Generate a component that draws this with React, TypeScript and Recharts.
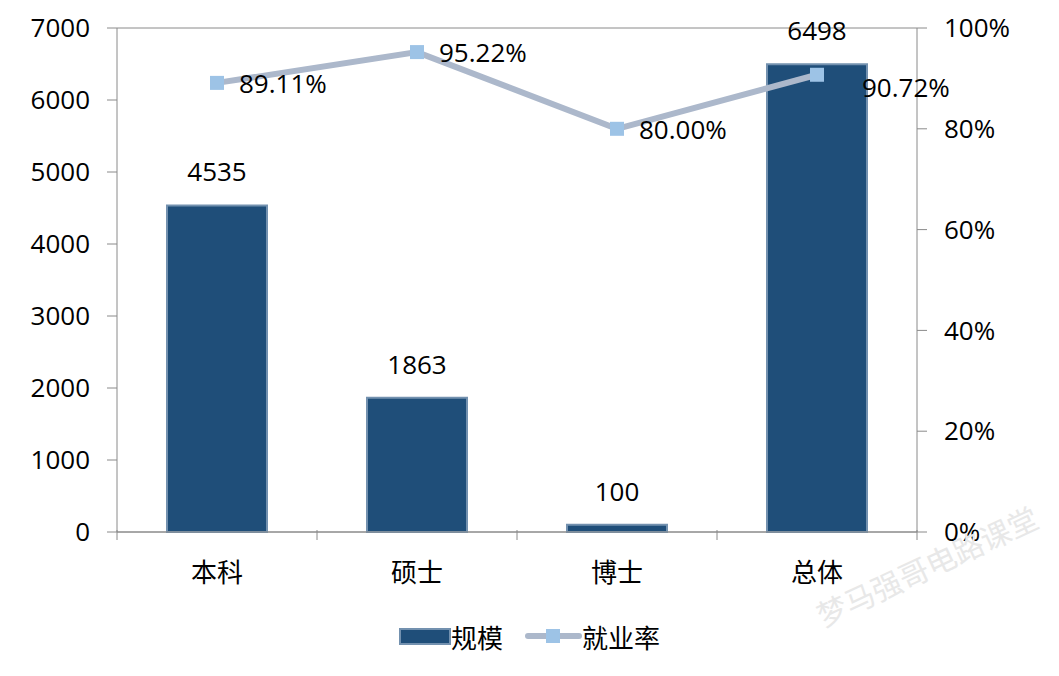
import React from "react";
import {
  ComposedChart,
  Bar,
  Line,
  XAxis,
  YAxis,
  CartesianGrid,
  LabelList,
  Legend,
} from "recharts";

const categories = ["本科", "硕士", "博士", "总体"];
const scaleValues = [4535, 1863, 100, 6498];
const rateValues = [89.11, 95.22, 80.0, 90.72];
const leftTicks = [0, 1000, 2000, 3000, 4000, 5000, 6000, 7000];
const rightTicks = [0, 20, 40, 60, 80, 100];
const seriesNames = ["规模", "就业率"];
const watermark = "梦马强哥电路课堂";

const data = categories.map((c, i) => ({
  name: c,
  scale: scaleValues[i],
  rate: rateValues[i],
}));

const FONT = '"Open Sans", "Noto Sans CJK SC", sans-serif';
const CJK = '"Noto Sans CJK SC", sans-serif';
const GRID = "#8a8a8a";
const BAR_FILL = "#1F4E79";
const BAR_STROKE = "#7391AF";
const LINE_COLOR = "#ACB8CB";
const MARKER = "#9DC3E6";

const XTick = (props: any) => {
  const { x, y, payload, width } = props;
  const bw = width / categories.length;
  const idx = payload.index;
  const isLast = idx === categories.length - 1;
  return (
    <g>
      <line x1={x - bw / 2} y1={y - 10} x2={x - bw / 2} y2={y} stroke={GRID} strokeWidth={1} />
      {isLast && (
        <line x1={x + bw / 2} y1={y - 10} x2={x + bw / 2} y2={y} stroke={GRID} strokeWidth={1} />
      )}
      <text x={x} y={y + 42} textAnchor="middle" fill="#000" fontSize={26} fontFamily={CJK}>
        {payload.value}
      </text>
    </g>
  );
};

const SquareDot = (props: any) => {
  const { cx, cy } = props;
  if (cx == null || cy == null) return null;
  return <rect x={cx - 7} y={cy - 7} width={14} height={14} fill={MARKER} />;
};

const RateLabel = (props: any) => {
  const { x, y, value, index } = props;
  const last = index === categories.length - 1;
  const dx = last ? 45 : 22;
  const dy = last ? 12 : 0;
  return (
    <text
      x={x + dx}
      y={y + dy}
      dominantBaseline="central"
      fill="#000"
      fontSize={26}
      fontFamily={FONT}
    >
      {`${Number(value).toFixed(2)}%`}
    </text>
  );
};

const LegendContent = () => (
  <div
    style={{
      display: "flex",
      justifyContent: "center",
      alignItems: "center",
      height: 40,
      fontFamily: CJK,
      fontSize: 26,
      color: "#000",
    }}
  >
    <svg width={52} height={17} style={{ marginRight: 0 }}>
      <rect x={1} y={1} width={50} height={15} fill={BAR_FILL} stroke={BAR_STROKE} strokeWidth={2} />
    </svg>
    <span style={{ marginRight: 22 }}>{seriesNames[0]}</span>
    <svg width={57} height={16}>
      <line x1={3} y1={8} x2={54} y2={8} stroke={LINE_COLOR} strokeWidth={6} strokeLinecap="round" />
      <rect x={21} y={1} width={14} height={14} fill={MARKER} />
    </svg>
    <span>{seriesNames[1]}</span>
  </div>
);

export default function App() {
  return (
    <div style={{ position: "absolute", left: 0, top: 0, width: 1059, height: 676, background: "#fff", overflow: "hidden" }}>
      <ComposedChart
        width={1059}
        height={676}
        data={data}
        margin={{ top: 28, right: 0, left: 0, bottom: 20 }}
      >
        <CartesianGrid vertical={false} stroke={GRID} strokeWidth={1} />
        <XAxis
          dataKey="name"
          height={84}
          axisLine={{ stroke: GRID }}
          tickLine={false}
          tick={<XTick />}
          interval={0}
        />
        <YAxis
          yAxisId="left"
          width={117}
          domain={[0, 7000]}
          ticks={leftTicks}
          interval={0}
          axisLine={{ stroke: GRID }}
          tickLine={{ stroke: GRID }}
          tickSize={10}
          tickMargin={17}
          tick={{ fill: "#000", fontSize: 26, fontFamily: FONT }}
        />
        <YAxis
          yAxisId="right"
          orientation="right"
          width={142}
          domain={[0, 100]}
          ticks={rightTicks}
          interval={0}
          tickFormatter={(v: number) => `${v}%`}
          axisLine={{ stroke: GRID }}
          tickLine={{ stroke: GRID }}
          tickSize={10}
          tickMargin={17}
          tick={{ fill: "#000", fontSize: 26, fontFamily: FONT }}
        />
        <Bar
          yAxisId="left"
          dataKey="scale"
          name={seriesNames[0]}
          fill={BAR_FILL}
          stroke={BAR_STROKE}
          strokeWidth={2}
          isAnimationActive={false}
          barSize={100}
        >
          <LabelList
            dataKey="scale"
            position="top"
            offset={24}
            fill="#000"
            fontSize={26}
            fontFamily={FONT}
          />
        </Bar>
        <Line
          yAxisId="right"
          dataKey="rate"
          name={seriesNames[1]}
          stroke={LINE_COLOR}
          strokeWidth={6}
          dot={<SquareDot />}
          activeDot={false}
          isAnimationActive={false}
        >
          <LabelList dataKey="rate" content={<RateLabel />} />
        </Line>
        <Legend verticalAlign="bottom" content={<LegendContent />} />
      </ComposedChart>
      <div
        style={{
          position: "absolute",
          left: 818,
          top: 594,
          fontFamily: CJK,
          fontSize: 30,
          color: "#e8e8e8",
          transform: "rotate(-25deg)",
          transformOrigin: "left center",
          whiteSpace: "nowrap",
          pointerEvents: "none",
        }}
      >
        {watermark}
      </div>
    </div>
  );
}
